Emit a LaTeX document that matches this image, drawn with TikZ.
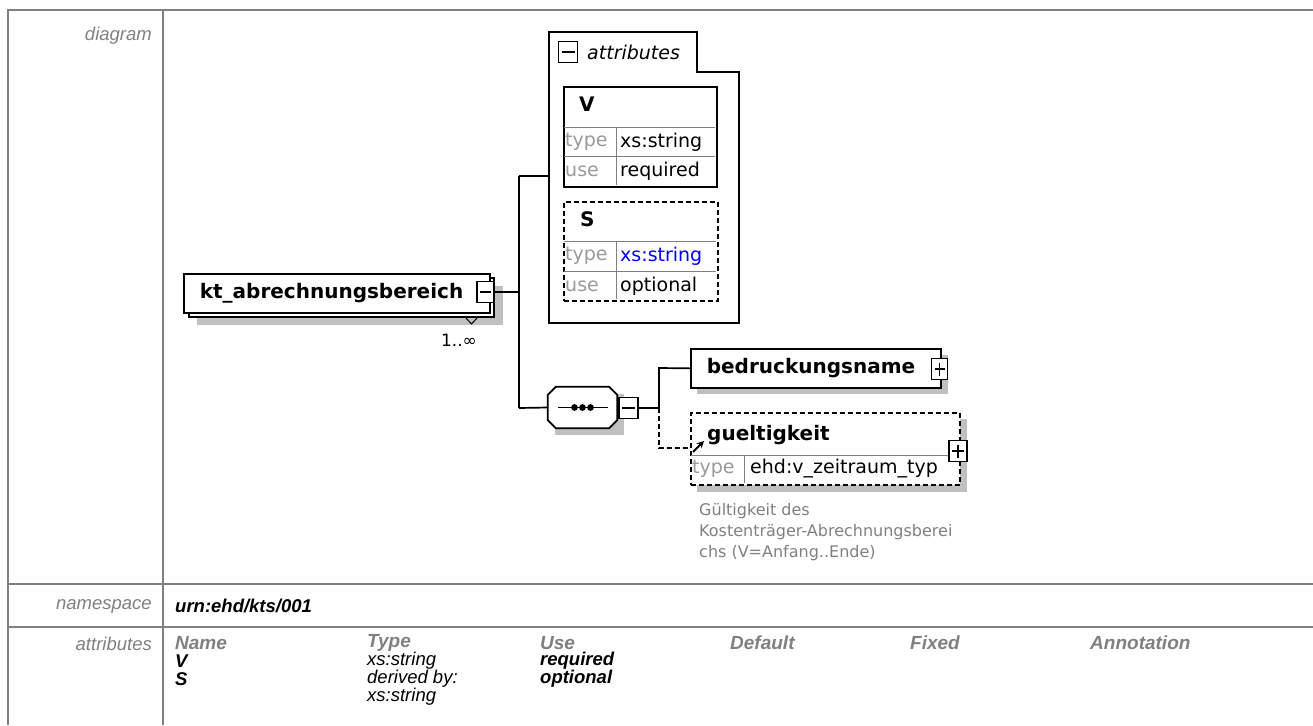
\documentclass[tikz,border=0pt]{standalone}
\usepackage{fontspec}
\setmainfont{Liberation Sans}
\newfontfamily\dvs{DejaVu Sans}
\usetikzlibrary{backgrounds,arrows.meta}
\definecolor{lg}{HTML}{808080}
\definecolor{shc}{HTML}{C0C0C0}
\definecolor{tyc}{HTML}{9A9A9A}
\definecolor{xsb}{HTML}{0000FF}
\begin{document}
\begin{tikzpicture}[x=1pt,y=-1pt,
 tline/.style={draw=lg,line width=2pt},
 rowlbl/.style={font=\fontsize{18.5}{21}\selectfont\itshape,text=lg,inner sep=0pt,anchor=east},
 tbh/.style={font=\fontsize{19}{21}\selectfont\bfseries\itshape,text=lg,inner sep=0pt,anchor=west},
 tbb/.style={font=\fontsize{18.5}{21}\selectfont\bfseries\itshape,inner sep=0pt,anchor=west},
 tbi/.style={font=\fontsize{18.5}{21}\selectfont\itshape,inner sep=0pt,anchor=west},
 dl/.style={line width=1.7pt},
 ebox/.style={draw,dl,fill=white,anchor=north west,inner xsep=16pt,inner ysep=0pt,align=left,font=\dvs\bfseries\fontsize{20}{24}\selectfont},
 dsh/.style={dash pattern=on 5pt off 3pt},
 shadow/.style={fill=shc,draw=none},
 pmbox/.style={draw,dl,fill=white,minimum width=17pt,minimum height=21pt,inner sep=0pt},
 minus/.style={pmbox,path picture={\draw[line width=1.6pt] ([xshift=3pt]path picture bounding box.west) -- ([xshift=-3pt]path picture bounding box.east);}},
 plus/.style={pmbox,path picture={\draw[line width=1.6pt] ([xshift=3pt]path picture bounding box.west) -- ([xshift=-3pt]path picture bounding box.east); \draw[line width=1.6pt] ([yshift=-4pt]path picture bounding box.north) -- ([yshift=4pt]path picture bounding box.south);}},
 dtxt/.style={font=\dvs\fontsize{19}{22}\selectfont,inner sep=0pt,anchor=west},
 dbold/.style={font=\dvs\bfseries\fontsize{20}{24}\selectfont,inner sep=0pt,anchor=west},
 glbl/.style={dtxt,text=tyc},
 inl/.style={draw=lg,line width=1pt},
 abox/.style={draw,dl,fill=white,anchor=north west,inner sep=0pt},
]
\useasboundingbox (0,0) rectangle (1313,725);

% ---------- table frame ----------
\draw[tline] (8,725) -- (8,10) -- (1313,10);
\draw[tline] (163,10) -- (163,725);
\draw[tline] (8,584) -- (1313,584);
\draw[tline] (8,627) -- (1313,627);

\node[rowlbl] (ldiag) at (152,36) {diagram};
\node[rowlbl] (lns) at (152,606) {namespace};
\node[rowlbl] (lattr) at (152,644) {attributes};
\node[tbb] (nsv) at (175,606) {urn:ehd/kts/001};

\node[tbh] (hname) at (175,643) {Name};
\node[tbh] (htype) at (367,643) {Type};
\node[tbh] (huse) at (540,643) {Use};
\node[tbh] (hdef) at (730,643) {Default};
\node[tbh] (hfix) at (910,643) {Fixed};
\node[tbh] (hann) at (1090,643) {Annotation};
\node[tbb] (av) at (175,661) {V};
\node[tbi] (avt) at (367,661) {xs:string};
\node[tbb] (avu) at (540,661) {required};
\node[tbb] (as) at (175,679) {S};
\node[tbi] (ast) at (367,679) {derived by:};
\node[tbb] (asu) at (540,679) {optional};
\node[tbi] (ast2) at (367,697) {xs:string};

% ---------- attributes container ----------
\draw[dl,fill=white] (549,32) -- (697,32) -- (697,72) -- (739,72) -- (739,323) -- (549,323) -- cycle;
\coordinate (attl) at (549,176);
\node[minus,minimum width=19pt] (attpm) at (568,52) {};
\node[font=\dvs\itshape\fontsize{19}{22}\selectfont,inner sep=0pt,anchor=west] (atttxt) at (587,52) {attributes};

% V attribute
\node[abox,minimum width=153pt,minimum height=100pt] (vbox) at (563,86) {};
\draw[inl] (564,127) -- (715,127);
\draw[inl] (564,156) -- (715,156);
\draw[inl] (616,127) -- (616,185);
\node[dbold] (vname) at (579,104) {V};
\node[glbl] (vtl) at (565,142) {type};
\node[dtxt] (vt) at (620,142) {xs:string};
\node[glbl] (vul) at (565,171) {use};
\node[dtxt] (vu) at (620,171) {required};

% S attribute
\node[abox,dsh,minimum width=154pt,minimum height=99pt] (sbox) at (563,201) {};
\draw[inl] (564,241) -- (716,241);
\draw[inl] (564,271) -- (716,271);
\draw[inl] (616,241) -- (616,299);
\node[dbold] (sname) at (580,219) {S};
\node[glbl] (stl) at (565,256) {type};
\node[dtxt,text=xsb] (st) at (620,256) {xs:string};
\node[glbl] (sul) at (565,286) {use};
\node[dtxt] (su) at (620,286) {optional};

% ---------- main element ----------
\node[ebox,text width=274pt,minimum height=39pt] (kt) at (183,273) {kt\_abrechnungsbereich};
\node[minus] (ktpm) at (485.5,292) {};
\draw[line width=1pt] (466,318) -- (471.5,324) -- (477,318);
\node[dtxt,anchor=center,font=\dvs\fontsize{17}{20}\selectfont] (ktocc) at (459,340) {1..∞};

% ---------- sequence ----------
\node[inner sep=0pt,minimum width=69pt,minimum height=41pt] (seq) at (582.5,407.5) {};
\filldraw[dl,fill=white] ([xshift=8pt]seq.north west) -- ([xshift=-8pt]seq.north east) -- ([yshift=-8pt]seq.north east) -- ([yshift=8pt]seq.south east) -- ([xshift=-8pt]seq.south east) -- ([xshift=8pt]seq.south west) -- ([yshift=8pt]seq.south west) -- ([yshift=-8pt]seq.north west) -- cycle;
\draw[dl] ([xshift=10pt]seq.west) -- ([xshift=-9pt]seq.east);
\fill ([xshift=-8pt]seq.center) circle (3.4);
\fill (seq.center) circle (3.4);
\fill ([xshift=8pt]seq.center) circle (3.4);
\node[minus,minimum width=19pt] (seqpm) at (628.5,408) {};

% ---------- children ----------
\node[ebox,text width=218pt,minimum height=39pt] (bn) at (690,348) {bedruckungsname};
\node[plus,minimum width=16pt] (bnpm) at (939.5,369) {};

\node[abox,dsh,minimum width=269pt,minimum height=72pt] (gl) at (690,412) {};
\draw[inl] (691,455) -- (958,455);
\draw[inl] (744,455) -- (744,483);
\node[dbold] (gltxt) at (707,435) {gueltigkeit};
\node[glbl] (gltl) at (692,469) {type};
\node[dtxt] (glt) at (750,469) {ehd:v\_zeitraum\_typ};
\coordinate (refa) at (693,452);
\coordinate (refb) at (704,441);
\draw[line width=2pt,-{Stealth[length=7pt,width=7pt]}] (refa) -- (refb);
\node[plus,minimum width=18pt] (glpm) at (958,451) {};

\node[font=\dvs\fontsize{16}{21}\selectfont,text=lg,align=left,anchor=north west,inner sep=0pt] (ann) at (699,503) {Gültigkeit des\\Kostenträger-Abrechnungsberei\\chs (V=Anfang..Ende)};

% ---------- shadows (background) ----------
\begin{scope}[on background layer]
\fill[shadow] (197,286) rectangle (503,325);
\filldraw[dl,fill=white] (189,278) rectangle (494,317);
\fill[shadow] (571,94) rectangle (724,194);
\fill[shadow] (571,209) rectangle (725,308);
\fill[shadow] ([shift={(7,7)}]seq.north west) rectangle ([shift={(7,7)}]seq.south east);
\fill[shadow] (697,355) rectangle (948,394);
\fill[shadow] (697,419) rectangle (967,492);
\end{scope}

% ---------- connectors ----------
\coordinate (j1) at (519,292);
\coordinate (j1t) at (519,176);
\coordinate (j1b) at (519,408);
\draw[dl] (ktpm.east) -- (j1);
\draw[dl] (j1t) -- (j1b);
\draw[dl] (j1t) -- (attl);
\draw[dl] (j1b) -- (seq.west);

\coordinate (j2) at (659,408);
\coordinate (j2t) at (659,368);
\coordinate (j2b) at (659,448);
\draw[dl] (seqpm.east) -- (j2) -- (j2t) -- (bn.west);
\draw[dl,dsh] (j2) -- (j2b) -- (gl.west |- j2b);
\end{tikzpicture}
\end{document}
